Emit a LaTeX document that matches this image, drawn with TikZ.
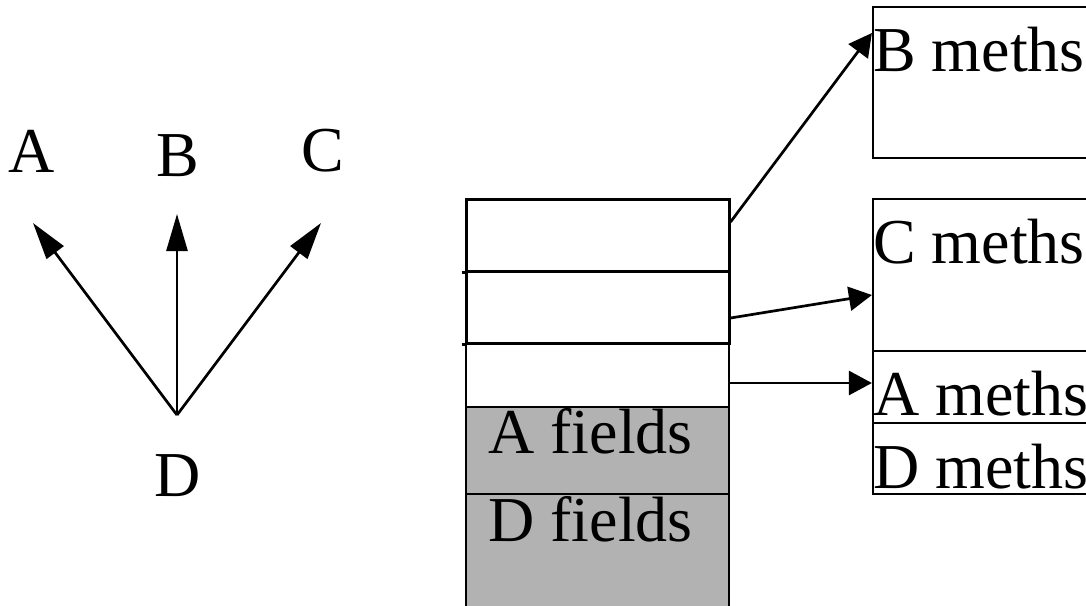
\documentclass[tikz,border=0pt]{standalone}
\usepackage{fontspec}
\setmainfont{Liberation Serif}
\usetikzlibrary{arrows.meta}
\begin{document}
\begin{tikzpicture}[x=1pt,y=-1pt,
  lbl/.style={font=\fontsize{64}{70}\selectfont, inner sep=0pt, anchor=base},
  cell/.style={draw, rectangle, inner sep=0pt, minimum width=263pt, line width=2.2pt},
  thickcell/.style={cell, line width=3pt},
  graycell/.style={cell, fill=black!30},
  meth/.style={draw, rectangle, inner sep=0pt, minimum width=227pt, line width=2.2pt},
  arrL/.style={line width=2.7pt, -{Triangle[length=37pt,width=21pt]}},
  arrR/.style={line width=2.7pt, -{Triangle[length=23pt,width=24pt]}}]
\useasboundingbox (0,0) rectangle (1086,605);
% left: class hierarchy
\node[lbl] (A) at (32,172) {A};
\node[lbl] (B) at (178,176) {B};
\node[lbl] (C) at (323,171) {C};
\node[lbl] (D) at (178,496) {D};
\coordinate (apex) at (177,415);
\coordinate (tA) at (33,223);
\coordinate (tB) at (177,214);
\coordinate (tC) at (321,223);
\draw[arrL] (apex) -- (tA);
\draw[arrL] (apex) -- (tB);
\draw[arrL] (apex) -- (tC);
% middle: object layout
\node[cell, minimum height=64pt] (b3) at (597.5,375) {};
\node[graycell, minimum height=87pt] (af) at (597.5,450.5) {};
\node[graycell, minimum height=126pt] (df) at (597.5,557) {};
\node[thickcell, minimum height=72pt] (b1) at (597.5,235) {};
\node[thickcell, minimum height=72pt] (b2) at (597.5,307) {};
\draw[line width=3pt] ([xshift=-3pt]b1.south west) -- (b1.south west);
\draw[line width=3pt] ([xshift=-3pt]b2.south west) -- (b2.south west);
\node[lbl] (aft) at ([xshift=-7pt,yshift=-48pt]af.north) {A fields};
\node[lbl] (dft) at ([xshift=-7pt,yshift=-49pt]df.north) {D fields};
% right: method tables
\node[meth, minimum height=151pt] (Bm) at (986.5,82.5) {};
\node[meth, minimum height=152pt] (Cm) at (986.5,275) {};
\node[meth, minimum height=72pt] (Am) at (986.5,387) {};
\node[meth, minimum height=71pt] (Dm) at (986.5,458.5) {};
\node[lbl, anchor=base west] (Bmt) at ([xshift=1pt,yshift=-66pt]Bm.north west) {B meths};
\node[lbl, anchor=base west] (Cmt) at ([xshift=1pt,yshift=-66pt]Cm.north west) {C meths};
\node[lbl, anchor=base west] (Amt) at ([xshift=1pt,yshift=-66pt]Am.north west) {A meths};
\node[lbl, anchor=base west] (Dmt) at ([xshift=1pt,yshift=-67pt]Dm.north west) {D meths};
% pointers
\draw[arrR] ([yshift=13pt]b1.east) -- ([yshift=49.5pt]Bm.west);
\draw[arrR] ([yshift=-11pt]b2.east) -- ([yshift=-20pt]Cm.west);
\draw[arrR] ([yshift=-8pt]b3.east) -- ([yshift=4pt]Am.west);
\end{tikzpicture}
\end{document}
